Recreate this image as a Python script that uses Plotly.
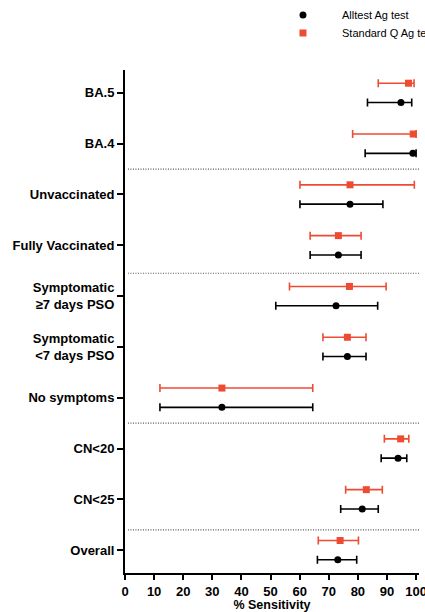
import plotly.graph_objects as go

categories = ["Overall", "CN<25", "CN<20", "No symptoms", "Symptomatic<br><7 days PSO",
              "Symptomatic<br>≥7 days PSO", "Fully Vaccinated", "Unvaccinated", "BA.4", "BA.5"]

alltest_val = [73.1, 81.5, 93.8, 33.3, 76.4, 72.5, 73.3, 77.3, 98.9, 94.8]
alltest_lo = [66.1, 74.1, 88.0, 12.0, 68.0, 51.8, 63.6, 60.1, 82.5, 83.3]
alltest_hi = [79.6, 87.0, 96.8, 64.5, 82.8, 86.8, 81.1, 88.6, 100.0, 98.5]

stdq_val = [73.9, 82.9, 94.7, 33.3, 76.4, 77.1, 73.3, 77.3, 99.0, 97.4]
stdq_lo = [66.4, 75.8, 89.1, 12.0, 68.0, 56.5, 63.6, 60.1, 78.2, 87.0]
stdq_hi = [80.2, 88.4, 97.5, 64.5, 82.8, 89.7, 81.1, 99.4, 100.0, 99.3]

series_names = ["Alltest Ag test", "Standard Q Ag test"]
separators = [0.4, 2.5, 5.45, 7.5]
x_ticks = [0, 10, 20, 30, 40, 50, 60, 70, 80, 90, 100]

RED = "#EE4B33"
FONT = "Liberation Sans"
OFF = 0.19
pos = list(range(len(categories)))


def bold_label(c):
    c = c.replace("<br>", "\n").replace("<", "&lt;")
    return "<br>".join("<b>" + part + "</b>" for part in c.split("\n"))


fig = go.Figure()
fig.add_trace(go.Scatter(
    x=alltest_val, y=[p - OFF for p in pos], mode="markers", name=series_names[0],
    marker=dict(symbol="circle", size=7, color="black"),
    error_x=dict(type="data", symmetric=False,
                 array=[h - v for h, v in zip(alltest_hi, alltest_val)],
                 arrayminus=[v - l for l, v in zip(alltest_lo, alltest_val)],
                 color="black", thickness=1.6, width=4),
))
fig.add_trace(go.Scatter(
    x=stdq_val, y=[p + OFF for p in pos], mode="markers", name=series_names[1],
    marker=dict(symbol="square", size=7, color=RED),
    error_x=dict(type="data", symmetric=False,
                 array=[h - v for h, v in zip(stdq_hi, stdq_val)],
                 arrayminus=[v - l for l, v in zip(stdq_lo, stdq_val)],
                 color=RED, thickness=1.6, width=4),
))

for s in separators:
    fig.add_shape(type="line", xref="paper", x0=0.01, x1=1, yref="y", y0=s, y1=s,
                  line=dict(color="#555555", width=1.2, dash="1px,1.5px"))

# legend drawn manually (keeps text overflowing at the right edge like the reference)
leg_mx, leg_tx = 0.6054, 0.7313
leg_y = [1.1093, 1.0736]
fig.add_shape(type="circle", xref="paper", yref="paper", xsizemode="pixel", ysizemode="pixel",
              xanchor=leg_mx, yanchor=leg_y[0], x0=-3.5, x1=3.5, y0=-3.5, y1=3.5,
              fillcolor="black", line=dict(width=0))
fig.add_shape(type="rect", xref="paper", yref="paper", xsizemode="pixel", ysizemode="pixel",
              xanchor=leg_mx, yanchor=leg_y[1], x0=-3.5, x1=3.5, y0=-3.5, y1=3.5,
              fillcolor=RED, line=dict(width=0))
for name, yy in zip(series_names, leg_y):
    fig.add_annotation(text=name, xref="paper", yref="paper", x=leg_tx, y=yy,
                       xanchor="left", yanchor="middle", showarrow=False,
                       font=dict(size=11, family=FONT, color="black"))

fig.update_layout(
    width=425, height=612,
    margin=dict(l=125, r=6, t=70, b=39, autoexpand=False),
    plot_bgcolor="white", paper_bgcolor="white",
    font=dict(family=FONT, color="black"),
    showlegend=False,
    xaxis=dict(range=[0, 101], tickvals=x_ticks, showgrid=False, zeroline=False,
               showline=True, linecolor="black", linewidth=2, automargin=False,
               ticks="outside", ticklen=5, tickwidth=2, tickcolor="black",
               ticklabeloverflow="allow",
               tickfont=dict(size=13, family=FONT, weight="bold"),
               title=dict(text="<b>% Sensitivity</b>", font=dict(size=12.5, family=FONT), standoff=2)),
    yaxis=dict(range=[-0.45, 9.45], tickvals=pos, ticktext=[bold_label(c) for c in categories],
               showgrid=False, zeroline=False, automargin=False,
               showline=True, linecolor="black", linewidth=2,
               ticks="outside", ticklen=6, tickwidth=2, tickcolor="black",
               tickfont=dict(size=13, family=FONT)),
)

fig.write_html("out.html", config={"displayModeBar": False},
               post_script="document.body.style.margin='0';document.body.style.overflow='hidden';")
